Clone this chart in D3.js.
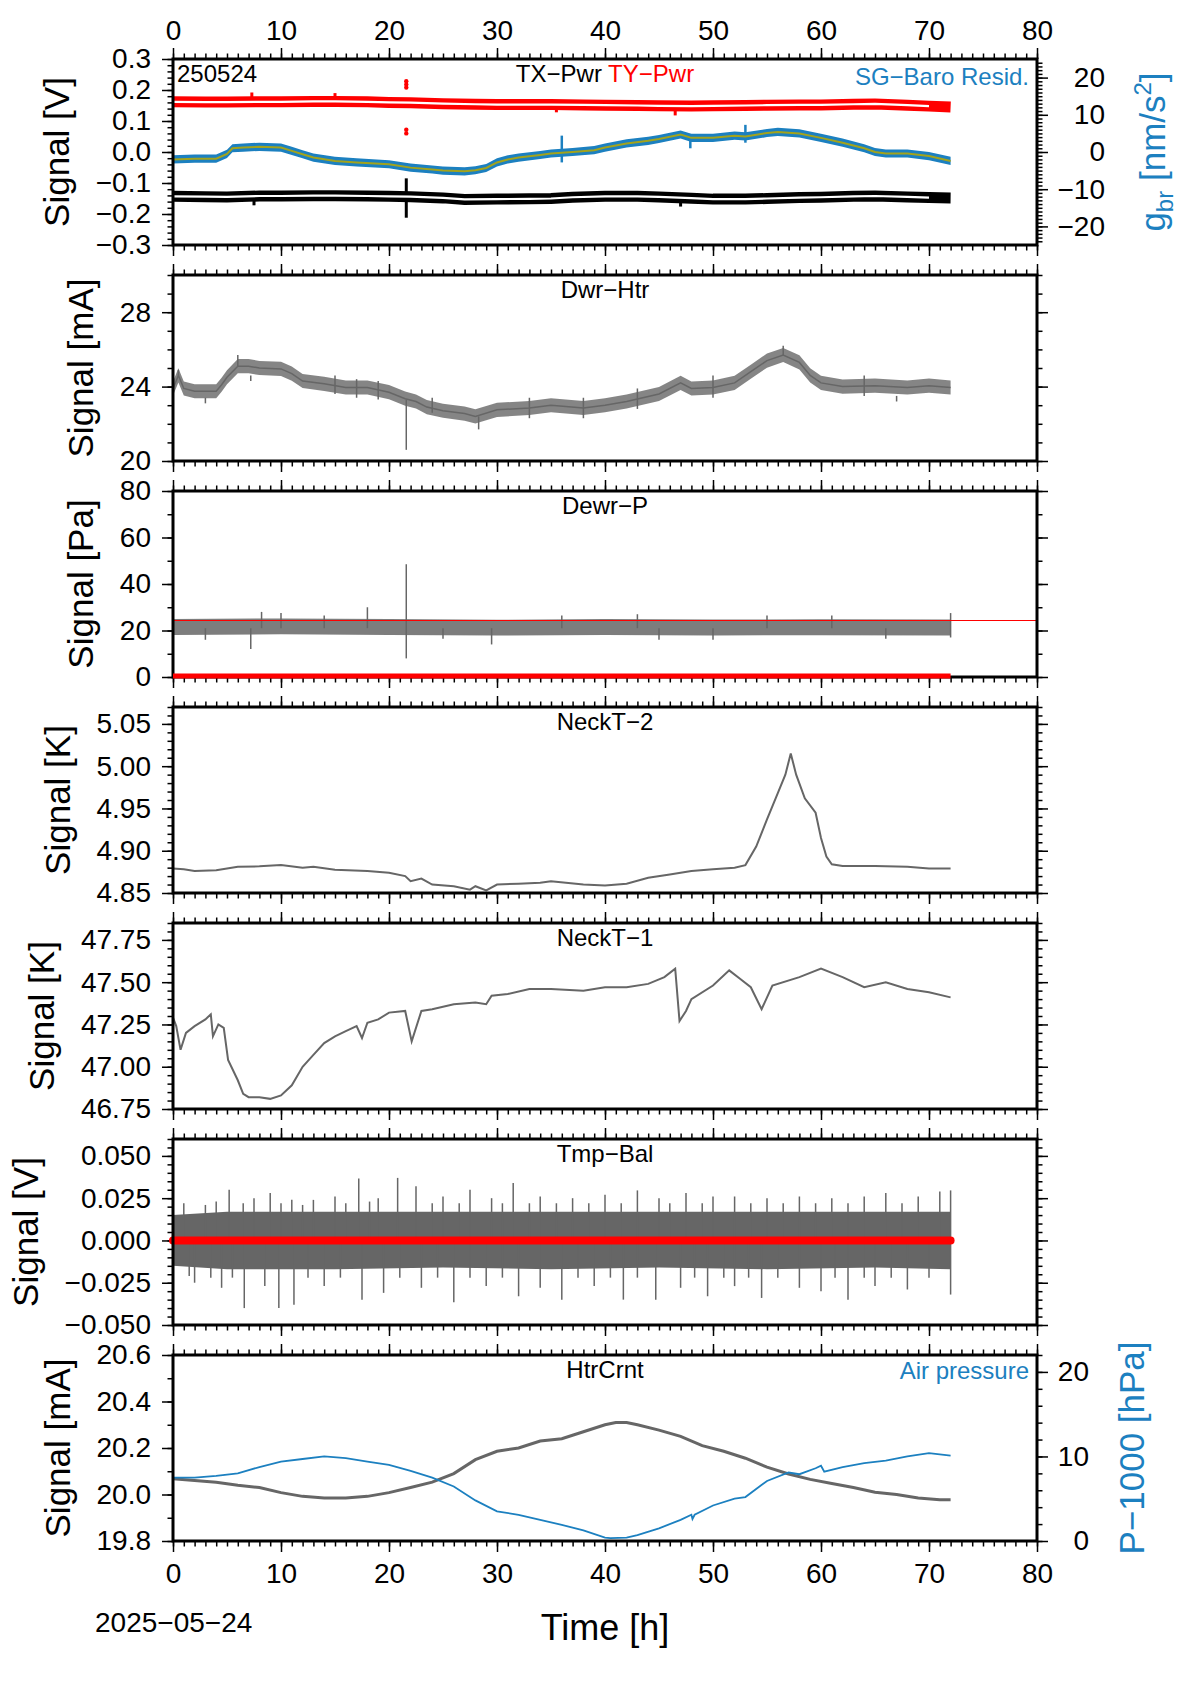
<!DOCTYPE html>
<html lang="en">
<head>
<meta charset="UTF-8" />
<title>SG monitor 250524</title>
<script src="https://d3js.org/d3.v7.min.js"></script>
<style>
  body { margin: 0; background: #fff; }
  svg text { font-family: "Liberation Sans", Arial, Helvetica, sans-serif; }
</style>
</head>
<body>
<svg id="chart" width="1190" height="1684"></svg>
<script>
// values, time in hours since 2025-05-24 00:00
const xTicks = [0, 10, 20, 30, 40, 50, 60, 70, 80];

// panel 1: TX/TY power [V] and SG-baro residual [nm/s^2]
const txPwr = [[0,-0.143],[3,-0.144],[5,-0.145],[8,-0.142],[10,-0.142],[13,-0.141],[15,-0.141],[18,-0.142],[20,-0.143],[22,-0.144],[25,-0.148],[27,-0.153],[30,-0.152],[33,-0.151],[35,-0.150],[37,-0.146],[40,-0.143],[43,-0.143],[45,-0.145],[48,-0.149],[50,-0.152],[53,-0.152],[55,-0.150],[58,-0.147],[60,-0.146],[63,-0.143],[65,-0.142],[68,-0.145],[70,-0.147],[72,-0.148]];
const tyPwr = [[0,0.162],[3,0.161],[5,0.161],[8,0.162],[10,0.162],[13,0.163],[15,0.163],[18,0.162],[20,0.160],[22,0.159],[25,0.156],[28,0.154],[30,0.153],[33,0.153],[35,0.153],[38,0.152],[40,0.151],[43,0.150],[45,0.149],[48,0.148],[50,0.149],[53,0.150],[55,0.151],[58,0.152],[60,0.152],[63,0.154],[65,0.155],[68,0.151],[70,0.148],[72,0.145]];
const txSpikes = [[7.5,-0.150,-0.172],[21.6,-0.085,-0.212],[47,-0.150,-0.176],[27,-0.150,-0.168]];
const tySpikes = [[7.3,0.165,0.192],[15,0.165,0.19],[46.5,0.148,0.118],[35.5,0.150,0.128]];
const tyDots = [[21.6,0.228],[21.6,0.218],[21.6,0.208],[21.6,0.072],[21.6,0.060]];
const sgResid = [[0,-2.0],[2,-1.8],[4,-1.8],[5,-0.5],[5.5,1.0],[6.5,1.2],[8,1.4],[10,1.2],[11,0.3],[12,-0.6],[13,-1.5],[15,-2.4],[17,-2.8],[20,-3.3],[22,-4.2],[24,-4.7],[25,-5.0],[27,-5.2],[28,-4.9],[29,-4.3],[30,-2.8],[31,-2.0],[32,-1.5],[34,-0.8],[35,-0.4],[37,0.0],[39,0.5],[40,1.2],[42,2.3],[44,3.0],[45,3.5],[47,4.7],[48,3.8],[50,3.8],[52,4.4],[53,4.2],[55,5.1],[56,5.4],[58,5.0],[60,3.8],[62,2.5],[64,1.0],[65,0.0],[66,-0.4],[68,-0.4],[70,-1.1],[72,-2.4]];
const sgNoise = 1.1;
const sgSpikes = [[36,4.4,-2.8],[47.9,3.8,1.0],[53,7.3,2.5]];

// panel 2: Dwr-Htr [mA]
const dwrHtr = [[0,23.9],[0.5,24.6],[1,23.9],[2,23.75],[4,23.75],[4.5,24.1],[5,24.5],[6,25.1],[7,25.1],[8,25.0],[10,24.95],[11,24.7],[12,24.3],[14,24.15],[16,23.95],[18,23.95],[20,23.7],[21.5,23.35],[22.5,23.2],[23.5,22.9],[25,22.7],[27,22.55],[28,22.4],[30,22.75],[33,22.85],[35,23.0],[38,22.85],[40,23.0],[42,23.2],[45,23.6],[47,24.2],[48,23.9],[50,23.95],[52,24.2],[53.5,24.8],[55,25.4],[56.5,25.7],[58,25.3],[59,24.6],[60,24.2],[62,24.0],[65,24.05],[68,23.95],[70,24.05],[72,23.95]];
const dwrNoise = 0.38;
const dwrSpikes = [[21.6,23.3,20.6],[6,25.1,25.7],[28.3,22.4,21.7],[56.5,25.7,26.2],[0.5,24.6,24.9],[3,23.4,23.1],[7.2,24.6,24.3],[15,24.6,23.6],[17,23.4,24.4],[19,23.3,24.3],[24,22.6,23.4],[33,23.4,22.3],[38,22.3,23.4],[43,22.8,23.9],[50,23.4,24.6],[64,23.5,24.6],[67,23.5,23.2]];

// panel 3: Dewr-P [Pa]
const dewrP = [[0,21.5],[10,21.8],[20,21.5],[30,21.2],[40,21.5],[50,21.3],[60,21.4],[72,21.3]];
const dewrNoise = 3.4;
const dewrSpikes = [[21.6,8,48.5],[18,21,30],[8.2,21,28],[7.2,12,21],[10,21,27.5],[29.5,14,21],[43,21,27],[72,17,27.5],[50,16,21],[61,21,26.5],[3,16,21],[14,21,26.5],[25,16.5,21],[36,21,26.5],[45,16,21],[55,21,26.5],[66,16.5,21]];
const dewrLimit = 24.3;

// panel 4: NeckT-2 [K]
const neckT2 = [[0,4.879],[1,4.878],[2,4.876],[4,4.877],[6,4.881],[8,4.8815],[10,4.883],[12,4.880],[13,4.881],[15,4.8775],[18,4.876],[20,4.874],[21.5,4.870],[22,4.864],[23,4.867],[24,4.860],[26,4.858],[27.5,4.854],[28,4.858],[29,4.853],[30,4.860],[32,4.861],[34,4.862],[35,4.864],[38,4.860],[40,4.859],[42,4.861],[44,4.868],[46,4.872],[48,4.876],[50,4.878],[52,4.880],[53,4.883],[54,4.905],[55,4.937],[56,4.968],[56.7,4.990],[57.2,5.015],[57.7,4.990],[58.5,4.962],[59.5,4.945],[60,4.915],[60.5,4.893],[61,4.884],[62,4.882],[65,4.882],[68,4.881],[70,4.879],[72,4.879]];

// panel 5: NeckT-1 [K]
const neckT1 = [[0,47.29],[0.3,47.24],[0.7,47.10],[1.2,47.20],[2,47.24],[3,47.28],[3.5,47.31],[3.7,47.18],[4.2,47.25],[4.7,47.23],[5.1,47.04],[6,46.92],[6.5,46.84],[7,46.82],[8,46.82],[9,46.81],[10,46.83],[11,46.89],[12,47.00],[13,47.07],[14,47.14],[15,47.18],[16,47.21],[17,47.24],[17.5,47.17],[18,47.26],[19,47.28],[20,47.32],[21.5,47.33],[22.1,47.15],[23,47.33],[24,47.34],[26,47.37],[28,47.38],[29,47.37],[29.5,47.42],[31,47.43],[33,47.46],[35,47.46],[38,47.45],[40,47.47],[42,47.47],[44,47.49],[45.5,47.53],[46.5,47.58],[46.9,47.27],[47.5,47.33],[48,47.40],[50,47.48],[51.5,47.57],[52.5,47.52],[53.5,47.47],[54.5,47.34],[55.5,47.48],[58,47.53],[60,47.58],[62,47.53],[64,47.47],[66,47.50],[68,47.46],[70,47.44],[72,47.41]];

// panel 6: Tmp-Bal [V]
const tmpBand = [[0,-0.015,0.015],[5,-0.017,0.017],[15,-0.017,0.017],[25,-0.016,0.017],[35,-0.017,0.017],[45,-0.016,0.017],[55,-0.017,0.017],[65,-0.016,0.017],[72,-0.017,0.017]];
const tmpUp = [[1,0.022],[3,0.021],[4,0.023],[5.2,0.030],[6.5,0.022],[7.5,0.025],[9,0.028],[10,0.022],[11,0.024],[12,0.021],[13,0.024],[15,0.026],[16,0.022],[17.2,0.0366],[18.2,0.023],[19,0.025],[20.8,0.037],[22.5,0.032],[24,0.022],[25,0.026],[26.5,0.022],[27.5,0.030],[29.5,0.025],[30.5,0.022],[31.5,0.034],[33,0.022],[34,0.026],[35.5,0.022],[37,0.025],[38.5,0.022],[40,0.027],[41.5,0.022],[43,0.0296],[45,0.025],[46,0.022],[47.5,0.028],[49,0.022],[50,0.026],[52,0.026],[53.5,0.022],[55,0.025],[56.5,0.022],[58,0.026],[59.5,0.022],[61,0.025],[62.5,0.022],[64,0.026],[66,0.028],[67.5,0.022],[69,0.026],[71,0.029],[72,0.0296]];
const tmpDown = [[1.5,-0.021],[2,-0.025],[3.5,-0.022],[4.5,-0.028],[5.5,-0.022],[6.6,-0.040],[8.5,-0.027],[9.8,-0.040],[11.2,-0.038],[12.5,-0.022],[14,-0.027],[15.5,-0.022],[17.5,-0.035],[19.5,-0.031],[21,-0.022],[23,-0.028],[24.5,-0.022],[26,-0.0366],[27.5,-0.022],[29,-0.027],[30.5,-0.022],[32,-0.033],[34,-0.028],[36,-0.035],[37.5,-0.022],[39,-0.027],[40.5,-0.022],[41.7,-0.035],[43,-0.022],[44.7,-0.035],[47,-0.028],[48.3,-0.022],[49.5,-0.033],[51,-0.022],[52,-0.027],[53.3,-0.022],[54.5,-0.034],[56,-0.022],[58,-0.028],[60,-0.030],[61.3,-0.022],[62.5,-0.035],[64,-0.022],[65,-0.027],[66.5,-0.022],[68,-0.029],[70,-0.022],[72,-0.032]];

// panel 7: HtrCrnt [mA] and air pressure [hPa - 1000]
const htrCrnt = [[0,20.068],[2,20.06],[4,20.053],[6,20.04],[8,20.03],[10,20.008],[12,19.992],[14,19.985],[16,19.985],[18,19.992],[20,20.008],[22,20.03],[24,20.053],[26,20.09],[28,20.15],[30,20.186],[32,20.2],[34,20.23],[36,20.24],[38,20.27],[40,20.3],[41,20.31],[42,20.31],[43,20.3],[45,20.277],[47,20.25],[49,20.21],[51,20.186],[53,20.156],[55,20.118],[57,20.088],[59,20.065],[61,20.047],[63,20.03],[65,20.01],[67,20.0],[69,19.985],[71,19.977],[72,19.977]];
const airP = [[0,7.5],[2,7.5],[4,7.7],[6,8.0],[8,8.75],[10,9.4],[12,9.7],[14,10.0],[16,9.8],[18,9.4],[20,9.0],[22,8.3],[24,7.5],[26,6.45],[28,4.8],[30,3.5],[32,3.1],[34,2.5],[36,1.9],[38,1.25],[40,0.4],[40.5,0.33],[42,0.4],[43,0.7],[45,1.5],[47,2.5],[48,3.1],[48.1,2.6],[48.3,3.1],[50,4.2],[52,5.0],[53,5.2],[55,7.1],[57,8.1],[58,7.9],[59.5,8.6],[60,8.9],[60.3,8.2],[62,8.75],[64,9.2],[66,9.5],[68,10.0],[70,10.4],[72,10.1]];

// y axes: labelled ticks
const p1Ticks = [-0.3, -0.2, -0.1, 0, 0.1, 0.2, 0.3];
const p2Ticks = [20, 24, 28];
const p3Ticks = [0, 20, 40, 60, 80];
const p4Ticks = [4.85, 4.90, 4.95, 5.00, 5.05];
const p5Ticks = [46.75, 47.00, 47.25, 47.50, 47.75];
const p6Ticks = [-0.05, -0.025, 0, 0.025, 0.05];
const p7Ticks = [19.8, 20.0, 20.2, 20.4, 20.6];
const gbrTicks = [-20, -10, 0, 10, 20];
const hpaTicks = [0, 10, 20];

const svg = d3.select("#chart");
const left = 173, right = 1037, top0 = 59, panelH = 186, step = 216;
const x = d3.scaleLinear([0, 80], [left, right]);
const xMinor = d3.range(0, 81, 1);
const GRAY = "#666666", RED = "#ff0000", BLUE = "#1c80c0", OLIVE = "#a3a31c";

function styleAxis(sel) {
  sel.select(".domain").remove();
  sel.selectAll(".tick line").attr("stroke", "#000").attr("stroke-width", 1.5);
  sel.selectAll(".tick text").attr("font-size", 28).attr("fill", "#000");
}
function minorOf(domain, s) {
  return d3.range(domain[0], domain[1] + s * 1e-3, s);
}

function panel(i, p) {
  const top = top0 + i * step, bottom = top + panelH;
  const y = d3.scaleLinear(p.domain, [bottom, top]);
  const g = svg.append("g");
  const ax = g.append("g");
  // time ticks on top and bottom of every panel
  [[top, d3.axisTop, i === 0, 8], [bottom, d3.axisBottom, i === 6, 11]].forEach(([yy, axis, show, pad]) => {
    ax.append("g").attr("transform", `translate(0,${yy})`)
      .call(axis(x).tickValues(xMinor).tickSize(5.5).tickFormat("")).call(styleAxis);
    ax.append("g").attr("transform", `translate(0,${yy})`)
      .call(axis(x).tickValues(xTicks).tickSize(11).tickPadding(pad).tickFormat(show ? d3.format("d") : "")).call(styleAxis);
  });
  const minor = minorOf(p.domain, p.minor);
  ax.append("g").attr("transform", `translate(${left},0)`)
    .call(d3.axisLeft(y).tickValues(minor).tickSize(5.5).tickFormat("")).call(styleAxis);
  const lab = ax.append("g").attr("transform", `translate(${left},0)`)
    .call(d3.axisLeft(y).tickValues(p.ticks).tickSize(11).tickPadding(11).tickFormat(d3.format(p.fmt))).call(styleAxis);
  if (!p.right) {
    ax.append("g").attr("transform", `translate(${right},0)`)
      .call(d3.axisRight(y).tickValues(minor).tickSize(5.5).tickFormat("")).call(styleAxis);
    ax.append("g").attr("transform", `translate(${right},0)`)
      .call(d3.axisRight(y).tickValues(p.ticks).tickSize(11).tickFormat("")).call(styleAxis);
  }
  const maxW = d3.max(lab.selectAll("text").nodes(), n => n.getComputedTextLength());
  const cx = left - 22 - maxW - 39, cy = (top + bottom) / 2;
  g.append("text").attr("transform", `translate(${cx},${cy}) rotate(-90)`)
    .attr("text-anchor", "middle").attr("dy", "0.35em").attr("font-size", 35).text(p.label);
  const data = g.append("g");
  return { g, y, top, bottom, data };
}

function frame(P) {
  P.g.append("rect").attr("x", left).attr("y", P.top).attr("width", right - left).attr("height", panelH)
    .attr("fill", "none").attr("stroke", "#000").attr("stroke-width", 3);
}
function title(P, parts) {
  const t = P.g.append("text").attr("x", x(40)).attr("y", P.top + 23).attr("text-anchor", "middle").attr("font-size", 24);
  parts.forEach(([s, c]) => t.append("tspan").attr("fill", c).text(s));
}
function lineOf(y) { return d3.line().x(d => x(d[0])).y(d => y(d[1])); }
function band(P, y, data, amp, color, op) {
  P.data.append("path").datum(data)
    .attr("d", d3.area().x(d => x(d[0])).y0(d => y(d[1] - amp)).y1(d => y(d[1] + amp)))
    .attr("fill", color).attr("fill-opacity", op);
}
function spikes(P, y, data, color, w) {
  P.data.selectAll(null).data(data).join("line")
    .attr("x1", d => x(d[0])).attr("x2", d => x(d[0]))
    .attr("y1", d => y(d[1])).attr("y2", d => y(d[2]))
    .attr("stroke", color).attr("stroke-width", w);
}

// ---- panel 1 ----
const P1 = panel(0, { domain: [-0.3, 0.3], ticks: p1Ticks, minor: 0.02, fmt: ".1f", label: "Signal [V]", right: true });
const gbr = d3.scaleLinear([-25, 25], [P1.bottom, P1.top]);
{
  const ra = P1.g.append("g").attr("transform", `translate(${right},0)`);
  ra.append("g").call(d3.axisRight(gbr).tickValues(d3.range(-24, 25, 1)).tickSize(5.5).tickFormat("")).call(styleAxis);
  ra.append("g").call(d3.axisRight(gbr).tickValues(gbrTicks).tickSize(11).tickFormat(d3.format("d"))).call(styleAxis)
    .selectAll(".tick text").attr("text-anchor", "end").attr("x", 68);
  const t = P1.g.append("text").attr("transform", `translate(1153,${(P1.top + P1.bottom) / 2}) rotate(-90)`)
    .attr("text-anchor", "middle").attr("dy", "0.35em").attr("font-size", 35).attr("fill", BLUE);
  t.append("tspan").text("g");
  t.append("tspan").attr("font-size", 24).attr("dy", 8).text("br");
  t.append("tspan").attr("dy", -8).text(" [nm/s");
  t.append("tspan").attr("font-size", 24).attr("dy", -14).text("2");
  t.append("tspan").attr("dy", 14).text("]");
}
[[txPwr, txSpikes, "#000"], [tyPwr, tySpikes, RED]].forEach(([d, sp, c]) => {
  spikes(P1, P1.y, sp, c, 3);
  P1.data.append("path").datum(d).attr("d", lineOf(P1.y)).attr("fill", "none").attr("stroke", c).attr("stroke-width", 11);
  P1.data.append("path").datum(d.filter(v => v[0] < 71.7)).attr("d", lineOf(P1.y)).attr("fill", "none").attr("stroke", "#fff").attr("stroke-width", 2.2);
});
P1.data.selectAll(null).data(tyDots).join("circle").attr("cx", d => x(d[0])).attr("cy", d => P1.y(d[1])).attr("r", 2.2).attr("fill", RED);
band(P1, gbr, sgResid, sgNoise, BLUE, 1);
spikes(P1, gbr, sgSpikes, BLUE, 2.5);
P1.data.append("path").datum(sgResid).attr("d", lineOf(gbr)).attr("fill", "none").attr("stroke", OLIVE).attr("stroke-width", 2);
frame(P1);
P1.g.append("text").attr("x", left + 4).attr("y", P1.top + 23).attr("font-size", 24).text("250524");
title(P1, [["TX\u2212Pwr ", "#000"], ["TY\u2212Pwr", RED]]);
P1.g.append("text").attr("x", right - 8).attr("y", P1.top + 26).attr("text-anchor", "end").attr("font-size", 24).attr("fill", BLUE).text("SG\u2212Baro Resid.");

// ---- panel 2 ----
const P2 = panel(1, { domain: [20, 30], ticks: p2Ticks, minor: 1, fmt: "d", label: "Signal [mA]" });
band(P2, P2.y, dwrHtr, dwrNoise, GRAY, 0.8);
spikes(P2, P2.y, dwrSpikes, GRAY, 1.5);
P2.data.append("path").datum(dwrHtr).attr("d", lineOf(P2.y)).attr("fill", "none").attr("stroke", GRAY).attr("stroke-width", 1.5);
frame(P2);
title(P2, [["Dwr\u2212Htr", "#000"]]);

// ---- panel 3 ----
const P3 = panel(2, { domain: [0, 80], ticks: p3Ticks, minor: 10, fmt: "d", label: "Signal [Pa]" });
band(P3, P3.y, dewrP, dewrNoise, GRAY, 0.85);
spikes(P3, P3.y, dewrSpikes, GRAY, 1.5);
P3.data.append("line").attr("x1", x(0)).attr("x2", x(80)).attr("y1", P3.y(dewrLimit)).attr("y2", P3.y(dewrLimit))
  .attr("stroke", RED).attr("stroke-width", 1);
frame(P3);
P3.g.append("line").attr("x1", x(0)).attr("x2", x(72)).attr("y1", P3.y(0) - 1).attr("y2", P3.y(0) - 1)
  .attr("stroke", RED).attr("stroke-width", 5);
title(P3, [["Dewr\u2212P", "#000"]]);

// ---- panel 4 ----
const P4 = panel(3, { domain: [4.85, 5.07], ticks: p4Ticks, minor: 0.01, fmt: ".2f", label: "Signal [K]" });
P4.data.append("path").datum(neckT2).attr("d", lineOf(P4.y)).attr("fill", "none").attr("stroke", GRAY).attr("stroke-width", 2);
frame(P4);
title(P4, [["NeckT\u22122", "#000"]]);

// ---- panel 5 ----
const P5 = panel(4, { domain: [46.75, 47.85], ticks: p5Ticks, minor: 0.05, fmt: ".2f", label: "Signal [K]" });
P5.data.append("path").datum(neckT1).attr("d", lineOf(P5.y)).attr("fill", "none").attr("stroke", GRAY).attr("stroke-width", 2);
frame(P5);
title(P5, [["NeckT\u22121", "#000"]]);

// ---- panel 6 ----
const P6 = panel(5, { domain: [-0.05, 0.06], ticks: p6Ticks, minor: 0.005, fmt: ".3f", label: "Signal [V]" });
P6.data.append("path").datum(tmpBand)
  .attr("d", d3.area().x(d => x(d[0])).y0(d => P6.y(d[1])).y1(d => P6.y(d[2])))
  .attr("fill", GRAY);
P6.data.selectAll(null).data(tmpUp.concat(tmpDown)).join("line")
  .attr("x1", d => x(d[0])).attr("x2", d => x(d[0])).attr("y1", P6.y(0)).attr("y2", d => P6.y(d[1]))
  .attr("stroke", GRAY).attr("stroke-width", 1.5);
P6.data.append("line").attr("x1", x(0)).attr("x2", x(72)).attr("y1", P6.y(0)).attr("y2", P6.y(0))
  .attr("stroke", RED).attr("stroke-width", 8).attr("stroke-linecap", "round");
frame(P6);
title(P6, [["Tmp\u2212Bal", "#000"]]);

// ---- panel 7 ----
const P7 = panel(6, { domain: [19.8, 20.6], ticks: p7Ticks, minor: 0.1, fmt: ".1f", label: "Signal [mA]", right: true });
const hpa = d3.scaleLinear([0, 22], [P7.bottom, P7.top]);
{
  const ra = P7.g.append("g").attr("transform", `translate(${right},0)`);
  ra.append("g").call(d3.axisRight(hpa).tickValues(d3.range(0, 23, 2)).tickSize(5.5).tickFormat("")).call(styleAxis);
  ra.append("g").call(d3.axisRight(hpa).tickValues(hpaTicks).tickSize(11).tickFormat(d3.format("d"))).call(styleAxis)
    .selectAll(".tick text").attr("text-anchor", "end").attr("x", 52);
  P7.g.append("text").attr("transform", `translate(1132,${(P7.top + P7.bottom) / 2}) rotate(-90)`)
    .attr("text-anchor", "middle").attr("dy", "0.35em").attr("font-size", 35).attr("fill", BLUE).text("P\u22121000 [hPa]");
}
P7.data.append("path").datum(htrCrnt).attr("d", lineOf(P7.y)).attr("fill", "none").attr("stroke", GRAY).attr("stroke-width", 3);
P7.data.append("path").datum(airP).attr("d", lineOf(hpa)).attr("fill", "none").attr("stroke", BLUE).attr("stroke-width", 1.8);
frame(P7);
title(P7, [["HtrCrnt", "#000"]]);
P7.g.append("text").attr("x", right - 8).attr("y", P7.top + 24).attr("text-anchor", "end").attr("font-size", 24).attr("fill", BLUE).text("Air pressure");

// bottom labels
svg.append("text").attr("x", x(40)).attr("y", 1640).attr("text-anchor", "middle").attr("font-size", 36).text("Time [h]");
svg.append("text").attr("x", 95).attr("y", 1632).attr("font-size", 28).text("2025\u221205\u221224");
</script>
</body>
</html>
